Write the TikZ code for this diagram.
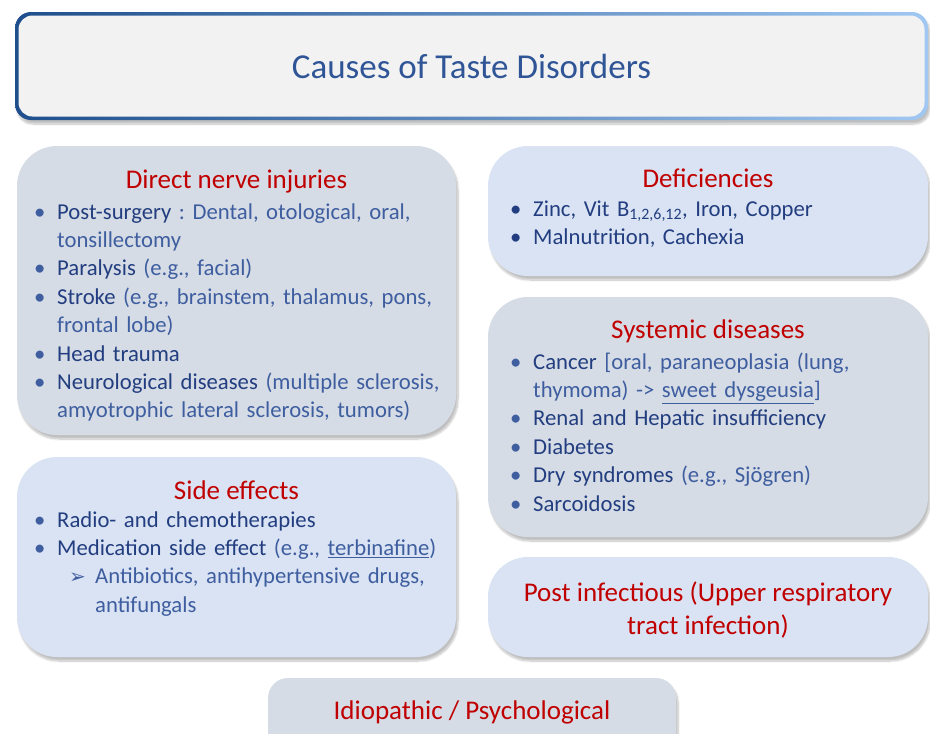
\documentclass[tikz,border=0pt]{standalone}
\usepackage{fontspec}
\setmainfont{Carlito}
\newfontfamily\arrowfont{DejaVu Sans}
\usetikzlibrary{positioning,shadows.blur}
\frenchspacing
\lefthyphenmin=62

\definecolor{titleblue}{RGB}{47,85,151}
\definecolor{darktext}{RGB}{34,62,128}
\definecolor{lighttext}{RGB}{62,94,160}
\definecolor{headred}{RGB}{192,0,0}
\definecolor{greyfill}{RGB}{214,220,229}
\definecolor{bluefill}{RGB}{218,227,243}
\definecolor{titlefill}{RGB}{242,242,242}
\definecolor{edgedark}{RGB}{30,78,140}
\definecolor{edgelight}{RGB}{160,200,242}

% bullet items with hanging indent
\newcommand{\itm}[1]{\hangindent=23pt\hangafter=1\noindent\makebox[23pt][l]{\textbullet}#1\par}
\newcommand{\subitm}[1]{\hangindent=61pt\hangafter=1\noindent\hspace*{35pt}\makebox[26pt][l]{\arrowfont\fontsize{20}{28.4}\selectfont ➢}#1\par}
\newcommand{\dk}[1]{{\color{darktext}#1}}

\begin{document}
\begin{tikzpicture}[x=1pt, y=-1pt,
  softshadow/.style = {blur shadow={shadow xshift=2pt, shadow yshift=-4pt, shadow blur steps=10, shadow opacity=25}},
  causebox/.style = {shape=rectangle, rounded corners=40pt, inner sep=0pt, softshadow},
  greybox/.style = {causebox, fill=greyfill},
  bluebox/.style = {causebox, fill=bluefill},
  heading/.style = {text=headred, font=\fontsize{27}{33}\selectfont, inner sep=0pt},
  itemlist/.style = {anchor=base west, align=left, inner sep=0pt, text=lighttext,
    font=\fontsize{22.7}{28.4}\selectfont}]

  \clip (0,0) rectangle (930,734);

  % title
  \node [rounded corners=16pt, left color=edgedark, right color=edgelight, softshadow,
    minimum width=913pt, minimum height=108pt] (frame) at (471.5,66) {};
  \node [rounded corners=14pt, fill=titlefill, minimum width=906pt, minimum height=101pt,
    text=titleblue, font=\fontsize{35}{40}\selectfont] (title) at (frame.center)
    {Causes of Taste Disorders};

  % boxes
  \node [greybox, minimum width=439pt, minimum height=289pt] (nerve)  at (236.5,290.5) {};
  \node [bluebox, minimum width=440pt, minimum height=130pt] (defic)  at (708,211) {};
  \node [greybox, minimum width=440pt, minimum height=240pt] (system) at (708,417) {};
  \node [bluebox, minimum width=439pt, minimum height=200pt] (side)   at (236.5,557) {};
  \node [bluebox, minimum width=440pt, minimum height=100pt] (post)   at (708,607) {};
  \node [greybox, minimum width=408pt, minimum height=80pt, rounded corners=20pt] (idio) at (472,718) {};

  % direct nerve injuries
  \node [heading] (nervehd) at (236.5,182) {Direct nerve injuries};
  \node [itemlist, text width=412pt] (nervelist) at (34,219) {%
    \itm{\dk{Post-surgery} : Dental, otological, oral, tonsillectomy}
    \itm{\dk{Paralysis} (e.g., facial)}
    \itm{\dk{Stroke} (e.g., brainstem, thalamus, pons, frontal lobe)}
    \itm{\dk{Head trauma}}
    \itm{\dk{Neurological diseases} (multiple sclerosis, amyotrophic lateral sclerosis, tumors)}};

  % deficiencies
  \node [heading] (deficthd) at (708,178) {Deficiencies};
  \node [itemlist, text width=400pt, text=darktext] (deficlist) at (510,216) {%
    \itm{Zinc, Vit B\textsubscript{1,2,6,12}, Iron, Copper}
    \itm{Malnutrition, Cachexia}};

  % systemic diseases
  \node [heading] (systemhd) at (708,331) {Systemic diseases};
  \node [itemlist, text width=400pt] (systemlist) at (510,369) {%
    \itm{\dk{Cancer} [oral, paraneoplasia (lung, thymoma) -> \underline{sweet dysgeusia}]}
    \itm{\dk{Renal and Hepatic insufficiency}}
    \itm{\dk{Diabetes}}
    \itm{\dk{Dry syndromes} (e.g., Sjögren)}
    \itm{\dk{Sarcoidosis}}};

  % side effects
  \node [heading] (sidehd) at (236.5,490) {Side effects};
  \node [itemlist, text width=412pt] (sidelist) at (34,527) {%
    \itm{\dk{Radio- and chemotherapies}}
    \itm{\dk{Medication side effect} (e.g., \underline{terbinafine})}
    \subitm{Antibiotics, antihypertensive drugs, antifungals}};

  % post infectious
  \node [heading, align=center] (posthd) at (708,610)
    {Post infectious (Upper respiratory\\tract infection)};

  % idiopathic
  \node [heading] (idiohd) at (472,712) {Idiopathic / Psychological};

\end{tikzpicture}
\end{document}
